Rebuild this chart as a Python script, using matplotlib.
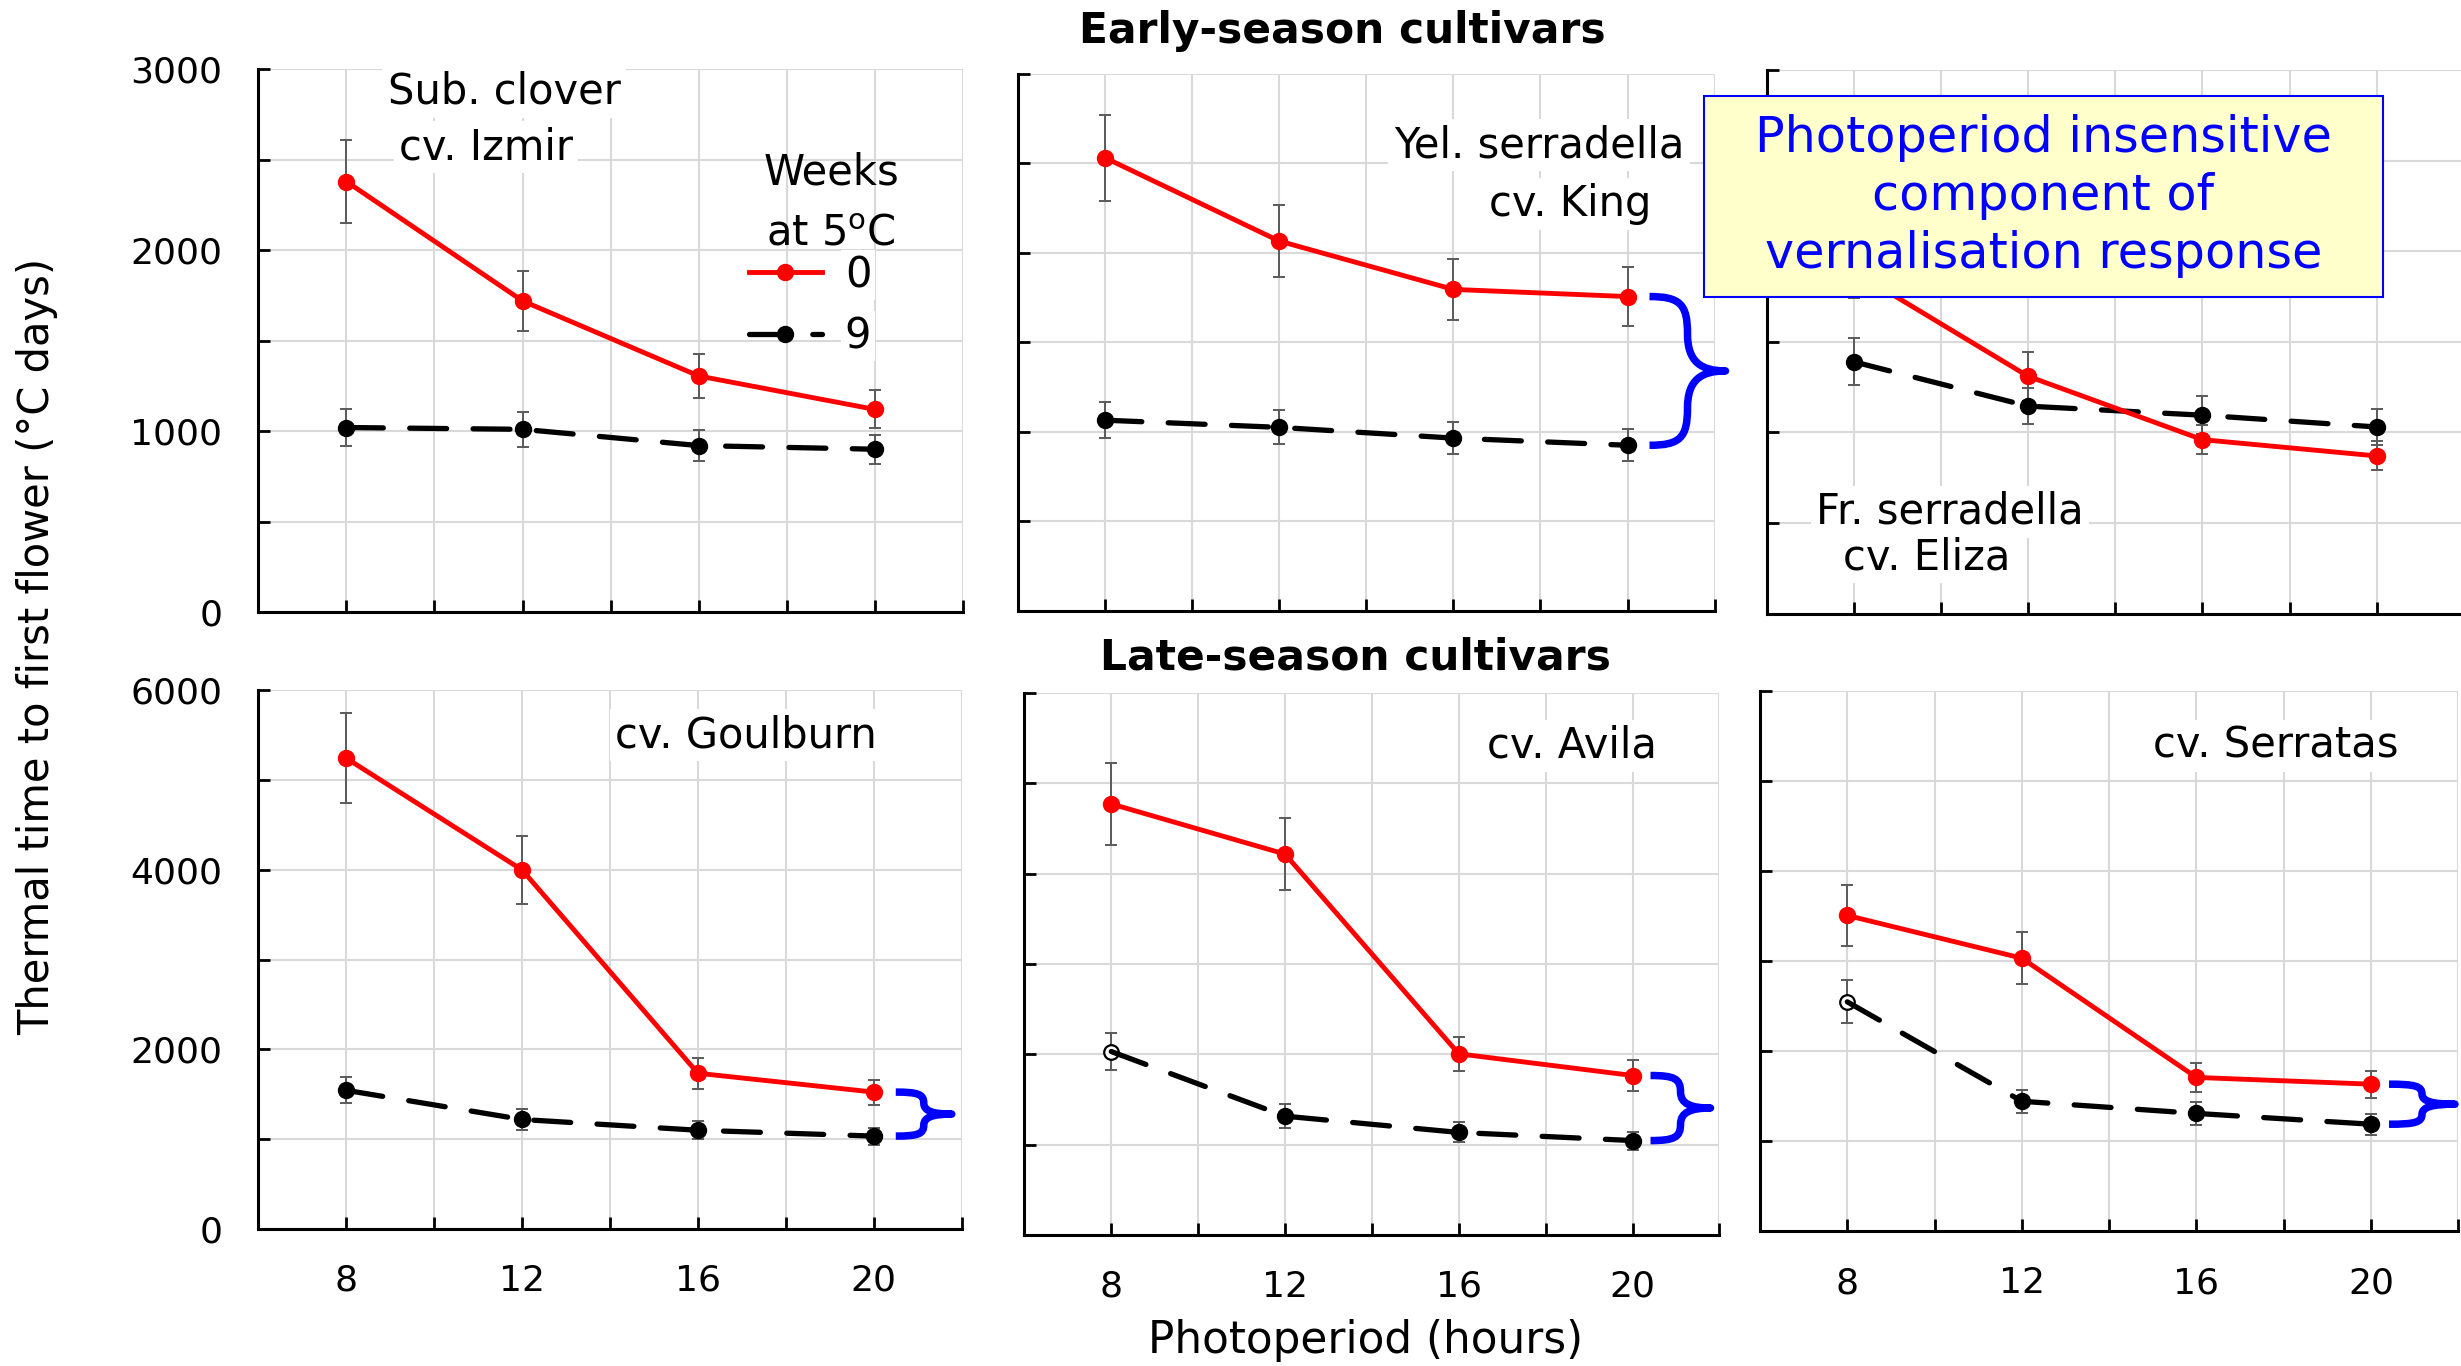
import matplotlib
matplotlib.use("Agg")
import matplotlib.pyplot as plt
from matplotlib.path import Path
from matplotlib.patches import PathPatch, Rectangle
from matplotlib.lines import Line2D
from matplotlib.ticker import MultipleLocator, FuncFormatter

plt.rcParams["font.family"] = ["DejaVu Sans"]

# ---------------- data ----------------
photoperiod = [8, 12, 16, 20]

izmir_w0 = [2380, 1720, 1305, 1120]
izmir_w0_se = [230, 165, 120, 105]
izmir_w9 = [1020, 1010, 920, 900]
izmir_w9_se = [100, 95, 85, 80]

king_w0 = [2530, 2065, 1795, 1755]
king_w0_se = [240, 200, 170, 165]
king_w9 = [1065, 1025, 965, 925]
king_w9_se = [100, 95, 90, 90]

eliza_w0 = [1890, 1310, 960, 870]
eliza_w0_se = [150, 135, 80, 80]
eliza_w9 = [1390, 1145, 1095, 1030]
eliza_w9_se = [130, 100, 105, 100]

goulburn_w0 = [5245, 4000, 1735, 1525]
goulburn_w0_se = [500, 380, 170, 140]
goulburn_w9 = [1545, 1220, 1100, 1035]
goulburn_w9_se = [145, 115, 100, 95]

avila_w0 = [4770, 4215, 2005, 1765]
avila_w0_se = [450, 400, 190, 170]
avila_w9 = [2030, 1315, 1135, 1045]
avila_w9_se = [200, 130, 110, 100]

serratas_w0 = [3510, 3035, 1710, 1635]
serratas_w0_se = [340, 290, 160, 150]
serratas_w9 = [2550, 1445, 1310, 1190]
serratas_w9_se = [240, 130, 125, 115]

x_tick_labels = [8, 12, 16, 20]
legend_labels = ["0", "9"]

# ---------------- figure ----------------
W, H = 2461, 1366
fig = plt.figure(figsize=(W / 100, H / 100), dpi=100)

RED = "#ff0000"
BLUE = "#0000ff"
GRID = "#d9d9d9"
ERR = "#5a5a5a"
RED_LW, BLACK_LW, MS = 3.5, 3.8, 11.5


def px_axes(x0, x1, y0, y1):
    return fig.add_axes([x0 / W, 1 - y1 / H, (x1 - x0) / W, (y1 - y0) / H])


def style_axes(ax, ymax, ystep, ylabel_step, show_y, show_x):
    ax.set_xlim(6, 22)
    ax.set_ylim(0, ymax)
    ax.xaxis.set_major_locator(MultipleLocator(2))
    ax.yaxis.set_major_locator(MultipleLocator(ystep))
    ax.set_axisbelow(True)
    ax.grid(True, color=GRID, lw=1.5)
    for s in ("top", "right"):
        ax.spines[s].set_visible(False)
    for s in ("left", "bottom"):
        ax.spines[s].set_linewidth(2.2)
    ax.tick_params(axis="both", direction="in", length=8.5, width=2,
                   labelsize=26, colors="black")
    ax.tick_params(axis="y", pad=26)
    ax.tick_params(axis="x", pad=25)
    ax.xaxis.set_major_formatter(FuncFormatter(
        lambda v, p: f"{int(round(v))}" if int(round(v)) in x_tick_labels else ""))
    ax.yaxis.set_major_formatter(FuncFormatter(
        lambda v, p: f"{int(round(v))}" if int(round(v)) % ylabel_step == 0 else ""))
    ax.tick_params(labelleft=show_y, labelbottom=show_x)


def draw_brace(ax, x, y_top, y_bot, start_px, tip_px):
    pos = ax.get_position()
    ax_w, ax_h = pos.width * W, pos.height * H
    xl, yl = ax.get_xlim(), ax.get_ylim()
    dx = (xl[1] - xl[0]) / ax_w
    dy = (yl[1] - yl[0]) / ax_h
    hpx = (y_top - y_bot) / dy
    xs, xt = start_px, tip_px
    xa = xs + 0.5 * (xt - xs)
    m = hpx / 2
    r = min(0.25 * hpx, 0.55 * (xt - xs))
    pts = [
        (xs, 0),
        (xs + 0.8 * (xa - xs), 0), (xa, 0.2 * r), (xa, r),
        (xa, m - r),
        (xa, m - 0.25 * r), (xa + 0.35 * (xt - xa), m), (xt, m),
        (xa + 0.35 * (xt - xa), m), (xa, m + 0.25 * r), (xa, m + r),
        (xa, hpx - r),
        (xa, hpx - 0.2 * r), (xs + 0.8 * (xa - xs), hpx), (xs, hpx),
    ]
    codes = ([Path.MOVETO] + [Path.CURVE4] * 3 + [Path.LINETO] +
             [Path.CURVE4] * 6 + [Path.LINETO] + [Path.CURVE4] * 3)
    verts = [(x + px * dx, y_top - py * dy) for px, py in pts]
    ax.add_patch(PathPatch(Path(verts, codes), fill=False, edgecolor=BLUE,
                           lw=5.4, capstyle="butt", joinstyle="round",
                           clip_on=False, zorder=6))


def draw_series(ax, w0, w0_se, w9, w9_se, open_first=False):
    ax.errorbar(photoperiod, w0, yerr=w0_se, fmt="none", ecolor=ERR,
                elinewidth=1.4, capsize=4.5, capthick=1.4, zorder=3)
    ax.errorbar(photoperiod, w9, yerr=w9_se, fmt="none", ecolor=ERR,
                elinewidth=1.4, capsize=4.5, capthick=1.4, zorder=3)
    ax.plot(photoperiod, w0, color=RED, lw=RED_LW, marker="o", ms=MS,
            solid_capstyle="round", zorder=5)
    ax.plot(photoperiod, w9, color="black", lw=BLACK_LW, ls=(0, (7.0, 5.0)),
            dash_capstyle="round", zorder=4.5)
    first = 1 if open_first else 0
    ax.plot(photoperiod[first:], w9[first:], ls="none", marker="o",
            color="black", ms=MS, zorder=5)
    if open_first:
        ax.plot(photoperiod[:1], w9[:1], ls="none", marker="o", ms=10.5,
                mfc="white", mec="black", mew=1.6, zorder=4)


def label(ax, x, y, s, size=30):
    ax.text(x / W, 1 - y / H, s, transform=fig.transFigure, ha="center",
            va="baseline", fontsize=size, color="black", zorder=2.5,
            bbox=dict(facecolor="white", edgecolor="none", pad=4))


# ---------------- early-season row ----------------
ax1 = px_axes(258.3, 963.0, 69.4, 612.0)
style_axes(ax1, 3000, 500, 1000, True, False)
draw_series(ax1, izmir_w0, izmir_w0_se, izmir_w9, izmir_w9_se)
label(ax1, 504, 104, "Sub. clover")
label(ax1, 486, 159, "cv. Izmir")

ax2 = px_axes(1017.8, 1714.6, 73.5, 611.0)
style_axes(ax2, 3000, 500, 1000, False, False)
draw_series(ax2, king_w0, king_w0_se, king_w9, king_w9_se)
label(ax2, 1539, 157, "Yel. serradella")
label(ax2, 1570, 216, "cv. King")
draw_brace(ax2, photoperiod[-1], king_w0[-1], king_w9[-1], 22, 98)

ax3 = px_axes(1766.6, 2463.8, 70.2, 613.5)
style_axes(ax3, 3000, 500, 1000, False, False)
draw_series(ax3, eliza_w0, eliza_w0_se, eliza_w9, eliza_w9_se)
label(ax3, 1950, 524, "Fr. serradella")
label(ax3, 1927, 569, "cv. Eliza")

# ---------------- late-season row ----------------
ax4 = px_axes(258.3, 961.7, 690.4, 1229.0)
style_axes(ax4, 6000, 1000, 2000, True, True)
draw_series(ax4, goulburn_w0, goulburn_w0_se, goulburn_w9, goulburn_w9_se)
label(ax4, 746, 747, "cv. Goulburn")
draw_brace(ax4, photoperiod[-1], goulburn_w0[-1], goulburn_w9[-1], 22, 78)

ax5 = px_axes(1024.4, 1719.4, 692.8, 1235.0)
style_axes(ax5, 6000, 1000, 2000, False, True)
draw_series(ax5, avila_w0, avila_w0_se, avila_w9, avila_w9_se, open_first=True)
label(ax5, 1572, 758, "cv. Avila")
draw_brace(ax5, photoperiod[-1], avila_w0[-1], avila_w9[-1], 18, 78)

ax6 = px_axes(1760.0, 2458.3, 691.4, 1231.3)
style_axes(ax6, 6000, 1000, 2000, False, True)
draw_series(ax6, serratas_w0, serratas_w0_se, serratas_w9, serratas_w9_se,
            open_first=True)
label(ax6, 2276, 758, "cv. Serratas")
draw_brace(ax6, photoperiod[-1], serratas_w0[-1], serratas_w9[-1], 18, 84)

# ---------------- legend ----------------
handles = [
    Line2D([], [], color=RED, lw=RED_LW, marker="o", ms=MS),
    Line2D([], [], color="black", lw=BLACK_LW, ls=(0, (7.0, 5.0)),
           dash_capstyle="round", marker="o", ms=MS),
]
leg = ax1.legend(handles, legend_labels, loc="upper left",
                 bbox_to_anchor=(749 / W, 1 - 254 / H),
                 bbox_transform=fig.transFigure, frameon=False,
                 fontsize=30, handlelength=1.75, handletextpad=0.55,
                 labelspacing=0.46, borderpad=0, borderaxespad=0,
                 markerfirst=True)
for t in leg.get_texts():
    t.set_bbox(dict(facecolor="white", edgecolor="none", pad=3))
fig.text(831 / W, 1 - 203 / H, "Weeks\nat 5$^{\\rm o}$C", ha="center",
         va="center", fontsize=30, linespacing=1.55, zorder=3)

# ---------------- annotation box ----------------
fig.add_artist(Rectangle((1704 / W, 1 - 296.7 / H), 679 / W, 201 / H,
                         transform=fig.transFigure, facecolor="#ffffcc",
                         edgecolor=BLUE, lw=1.5, zorder=10))
fig.text(2043.5 / W, 1 - 196 / H,
         "Photoperiod insensitive\ncomponent of\nvernalisation response",
         ha="center", va="center", fontsize=35.5, color=BLUE,
         linespacing=1.27, zorder=11)

# ---------------- titles and axis labels ----------------
fig.text(1342 / W, 1 - 31 / H, "Early-season cultivars", ha="center",
         va="center", fontsize=30.5, fontweight="bold")
fig.text(1355 / W, 1 - 657 / H, "Late-season cultivars", ha="center",
         va="center", fontsize=30.5, fontweight="bold")
fig.text(37 / W, 1 - 646 / H, "Thermal time to first flower (°C days)",
         rotation=90, ha="center", va="center", fontsize=30)
fig.text(1366 / W, 1 - 1341 / H, "Photoperiod (hours)", ha="center",
         va="center", fontsize=31.5)

fig.savefig("out.png", dpi=100)
